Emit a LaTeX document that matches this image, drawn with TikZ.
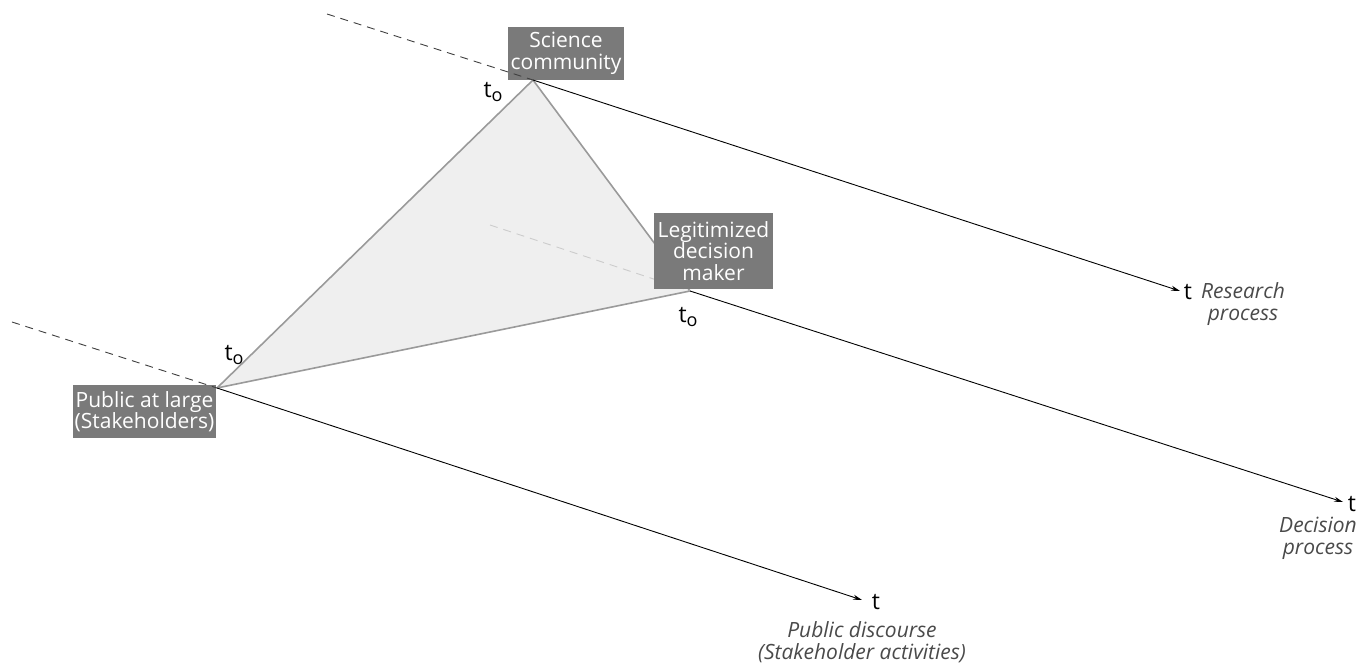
\documentclass[tikz,border=0pt]{standalone}
\usepackage{fontspec}
\setmainfont{Open Sans}
\usetikzlibrary{arrows.meta}
\definecolor{boxgray}{HTML}{7A7A7A}
\definecolor{trifill}{HTML}{EFEFEF}
\definecolor{triedge}{HTML}{9A9A9A}
\definecolor{labgray}{HTML}{4A4A4A}
\tikzset{
  actor/.style={fill=boxgray, text=white, inner sep=0pt, align=center,
    font=\fontsize{21}{21.5}\selectfont},
  timeline/.style={draw=black, line width=0.9pt, -{Stealth[length=9pt,width=5pt]}},
  past/.style={draw=black!75, line width=0.9pt, dash pattern=on 8pt off 6pt},
  hidden/.style={draw=black!20, line width=0.9pt, dash pattern=on 8pt off 6pt},
  tri/.style={fill=trifill, draw=triedge, line width=1.6pt, line join=round},
  tlab/.style={font=\fontsize{23}{23}\selectfont, inner sep=0pt},
  proclab/.style={font=\fontsize{21}{22}\selectfont\itshape, text=labgray, align=center, inner sep=0pt},
}
\newcommand{\tzero}{t\raisebox{-4pt}{\fontsize{18}{18}\selectfont o}}
\begin{document}
\begin{tikzpicture}[x=1pt,y=-1pt]
\useasboundingbox (0,0) rectangle (1358,668);
% apex coordinates
\coordinate (sc) at (533,80);
\coordinate (dm) at (690,291);
\coordinate (pu) at (217,388);
% past ends
\coordinate (scpast) at (327,14);
\coordinate (dmpast) at (490,225);
\coordinate (pupast) at (12,322);
% future ends
\coordinate (scend) at (1180,291);
\coordinate (dmend) at (1343,502);
\coordinate (puend) at (862,600);
% triangle
\draw[tri] (sc) -- (dm) -- (pu) -- cycle;
\draw[hidden] (dmpast) -- (dm);
% boxes
\node[actor, minimum width=116pt, minimum height=53pt] (scbox) at (566,53.5) {Science\\community};
\node[actor, minimum width=119pt, minimum height=76pt] (dmbox) at (713.5,251) {Legitimized\\decision\\maker};
\node[actor, minimum width=143pt, minimum height=53pt] (pubox) at (144.5,411.5) {Public at large\\(Stakeholders)};
% timelines
\draw[past] (scpast) -- (sc);
\draw[past] (pupast) -- (pu);
\draw[timeline] (sc) -- (scend);
\draw[timeline] (dm) -- (dmend);
\draw[timeline] (pu) -- (puend);
% t0 labels
\node[tlab] (sct0) at (493,92) {\tzero};
\node[tlab] (dmt0) at (688,317) {\tzero};
\node[tlab] (put0) at (234,355) {\tzero};
% t labels
\node[tlab] (sct) at (1188,292) {t};
\node[tlab] (dmt) at (1352,504) {t};
\node[tlab] (put) at (876,602) {t};
% process labels
\node[proclab] (scproc) at (1243,304) {Research\\process};
\node[proclab] (dmproc) at (1318,538) {Decision\\process};
\node[proclab] (puproc) at (862,642) {Public discourse\\(Stakeholder activities)};
\end{tikzpicture}
\end{document}
